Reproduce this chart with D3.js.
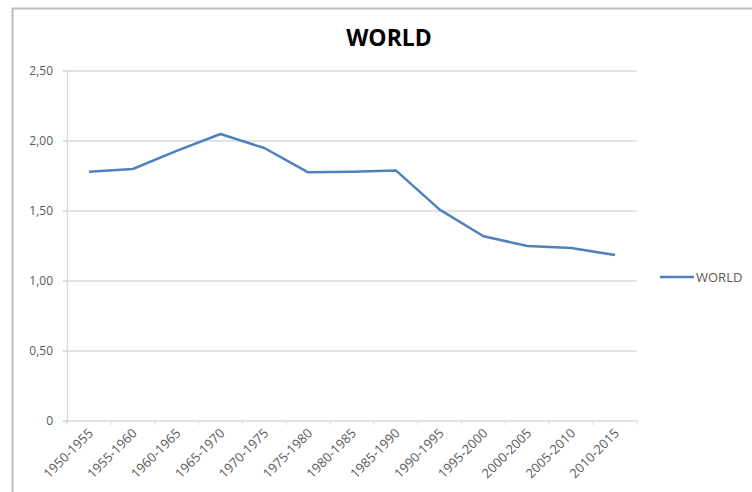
<!DOCTYPE html>
<html>
<head>
<meta charset="utf-8">
<script src="https://cdn.jsdelivr.net/npm/d3@7"></script>
<style>
  body { margin: 0; background: #fff; }
  svg { display: block; }
</style>
</head>
<body>
<div id="chart"></div>
<script>
const categories = ["1950-1955", "1955-1960", "1960-1965", "1965-1970", "1970-1975", "1975-1980", "1980-1985",
    "1985-1990", "1990-1995", "1995-2000", "2000-2005", "2005-2010", "2010-2015"];
const worldValues = [1.78, 1.80, 1.93, 2.05, 1.95, 1.776, 1.78, 1.79, 1.51, 1.32, 1.25, 1.235, 1.185];
const yTicks = [0, 0.5, 1.0, 1.5, 2.0, 2.5];
const seriesName = "WORLD";

const width = 752, height = 492;
const plotLeft = 67, plotRight = 637, plotTop = 71, plotBottom = 421;
const font = "'Open Sans', sans-serif";

const svg = d3.select("#chart").append("svg")
    .attr("width", width)
    .attr("height", height);

// chart frame
svg.append("path")
    .attr("d", `M12.5,${height} V8.5 H${width}`)
    .attr("fill", "none")
    .attr("stroke", "#bdbdbd")
    .attr("stroke-width", 2);

const x = d3.scaleBand().domain(categories).range([plotLeft, plotRight]);
const y = d3.scaleLinear().domain([0, 2.5]).range([plotBottom, plotTop]);

// gridlines
svg.append("g")
    .selectAll("line")
    .data(yTicks.filter(d => d > 0))
    .join("line")
    .attr("x1", plotLeft - 4).attr("x2", plotRight)
    .attr("y1", d => y(d)).attr("y2", d => y(d))
    .attr("stroke", "#d9d9d9")
    .attr("stroke-width", 1.3);

// y axis
const yAxis = svg.append("g")
    .attr("transform", `translate(${plotLeft},0)`)
    .call(d3.axisLeft(y).tickValues(yTicks).tickSize(4).tickPadding(10)
        .tickFormat(d => d === 0 ? "0" : d3.format(".2f")(d).replace(".", ",")));
yAxis.select(".domain").attr("stroke", "#d9d9d9").attr("stroke-width", 1.3);
yAxis.selectAll(".tick line").attr("stroke", "#d9d9d9");
yAxis.selectAll("text")
    .attr("fill", "#595959")
    .style("font-family", font)
    .style("font-size", "12px");

// x axis
const xAxis = svg.append("g")
    .attr("transform", `translate(0,${plotBottom})`);
xAxis.append("line")
    .attr("x1", plotLeft - 4).attr("x2", plotRight)
    .attr("stroke", "#d9d9d9").attr("stroke-width", 1.3);
xAxis.selectAll(".tk")
    .data(categories.map(c => x(c)).concat([plotRight]))
    .join("line")
    .attr("class", "tk")
    .attr("x1", d => d).attr("x2", d => d)
    .attr("y1", 0).attr("y2", 4)
    .attr("stroke", "#d9d9d9");
xAxis.selectAll("text")
    .data(categories)
    .join("text")
    .attr("transform", d => `translate(${x(d) + x.bandwidth() / 2 + 5},${13}) rotate(-45)`)
    .attr("text-anchor", "end")
    .attr("fill", "#595959")
    .style("font-family", font)
    .style("font-size", "13px")
    .text(d => d);

// series line
const line = d3.line()
    .x((d, i) => x(categories[i]) + x.bandwidth() / 2)
    .y(d => y(d));

svg.append("path")
    .datum(worldValues)
    .attr("d", line)
    .attr("fill", "none")
    .attr("stroke", "#4f81bd")
    .attr("stroke-width", 2.5)
    .attr("stroke-linejoin", "round");

// title
svg.append("text")
    .attr("x", 389).attr("y", 46)
    .attr("text-anchor", "middle")
    .style("font-family", font)
    .style("font-weight", "bold")
    .style("font-size", "23px")
    .attr("fill", "#000")
    .text(seriesName);

// legend
const legend = svg.append("g").attr("transform", "translate(660,277)");
legend.append("line")
    .attr("x1", 0).attr("x2", 34)
    .attr("stroke", "#4f81bd").attr("stroke-width", 2.5);
legend.append("text")
    .attr("x", 36).attr("y", 4.5)
    .attr("fill", "#595959")
    .style("font-family", font)
    .style("font-size", "13px")
    .text(seriesName);
</script>
</body>
</html>
